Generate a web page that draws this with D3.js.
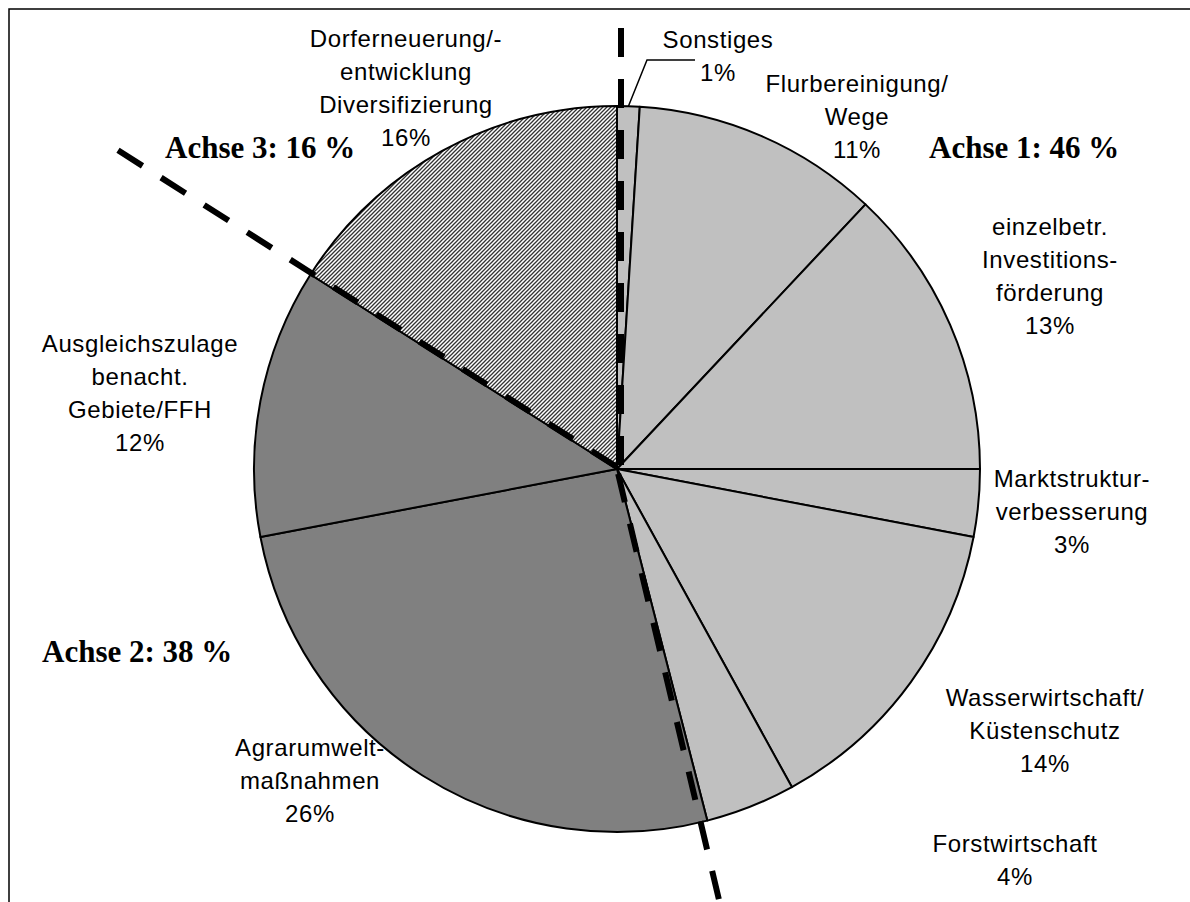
<!DOCTYPE html>
<html>
<head>
<meta charset="utf-8">
<script src="https://cdn.jsdelivr.net/npm/d3@7"></script>
<style>
  body { margin: 0; background: #fff; }
</style>
</head>
<body>
<div id="viz"></div>
<script>
// slices clockwise from 12 o'clock
const categories = [
  ["Sonstiges"],
  ["Flurbereinigung/", "Wege"],
  ["einzelbetr.", "Investitions-", "förderung"],
  ["Marktstruktur-", "verbesserung"],
  ["Wasserwirtschaft/", "Küstenschutz"],
  ["Forstwirtschaft"],
  ["Agrarumwelt-", "maßnahmen"],
  ["Ausgleichszulage", "benacht.", "Gebiete/FFH"],
  ["Dorferneuerung/-", "entwicklung", "Diversifizierung"]
];
const values = [1, 11, 13, 3, 14, 4, 26, 12, 16];
const axisOf = [1, 1, 1, 1, 1, 1, 2, 2, 3];

const axisNames = ["Achse 1: 46 %", "Achse 2: 38 %", "Achse 3: 16 %"];
// boundaries between the Achsen, in percent of the circle
const axisBounds = [0, 46.3, 84];

const width = 1190, height = 902;
const cx = 617, cy = 469, r = 363;

const svg = d3.select("#viz").append("svg")
  .attr("width", width)
  .attr("height", height)
  .style("display", "block");

const defs = svg.append("defs");
const hatch = defs.append("pattern")
  .attr("id", "hatch")
  .attr("patternUnits", "userSpaceOnUse")
  .attr("width", 4)
  .attr("height", 4);
hatch.append("rect").attr("width", 4).attr("height", 4).attr("fill", "#fff");
hatch.append("path")
  .attr("d", "M-1,1 l2,-2 M0,4 l4,-4 M3,5 l2,-2")
  .attr("stroke", "#333")
  .attr("stroke-width", 1.3);

// frame (only left and top edges fall inside the picture)
svg.append("rect")
  .attr("x", 9).attr("y", 9)
  .attr("width", 1300).attr("height", 1000)
  .attr("fill", "none")
  .attr("stroke", "#000")
  .attr("stroke-width", 1.5);

const fillFor = a => a === 1 ? "#c0c0c0" : a === 2 ? "#808080" : "url(#hatch)";

const pie = d3.pie().sort(null).value(d => d)
  .startAngle(0).endAngle(2 * Math.PI);
const arcs = pie(values);
const arc = d3.arc().innerRadius(0).outerRadius(r);

const g = svg.append("g").attr("transform", `translate(${cx},${cy})`);

g.selectAll("path.slice")
  .data(arcs)
  .join("path")
  .attr("class", "slice")
  .attr("d", arc)
  .attr("fill", (d, i) => fillFor(axisOf[i]))
  .attr("stroke", "#000")
  .attr("stroke-width", 2)
  .attr("stroke-linejoin", "round");

// dashed Achsen dividers, drawn from the outer end towards the centre
const pct = d3.scaleLinear().domain([0, 100]).range([0, 2 * Math.PI]);
const dividerLen = [441, 442, 591];
const dividerShift = [[4, 0], [0, 0], [0, -2]]; // drawn slightly beside the slice edge
axisBounds.forEach((p, i) => {
  const a = pct(p);
  const L = dividerLen[i];
  const [sx, sy] = dividerShift[i];
  g.append("line")
    .attr("x1", L * Math.sin(a) + sx)
    .attr("y1", -L * Math.cos(a) + sy)
    .attr("x2", sx)
    .attr("y2", sy)
    .attr("stroke", "#000")
    .attr("stroke-width", 6)
    .attr("stroke-dasharray", "29,22");
});

// leader line for Sonstiges
const sonstMid = (arcs[0].startAngle + arcs[0].endAngle) / 2;
g.append("path")
  .attr("d", `M${r * Math.sin(sonstMid)},${-r * Math.cos(sonstMid)} L30,-409 L78,-409`)
  .attr("fill", "none")
  .attr("stroke", "#000")
  .attr("stroke-width", 1.5);

// label block positions: centre x, first baseline
const labelAt = [
  [718, 48], [857, 92], [1050, 235], [1072, 487], [1045, 706],
  [1015, 852], [310, 756], [140, 352], [406, 47]
];
const lineH = 33;

categories.forEach((lines, i) => {
  const t = svg.append("text")
    .attr("x", labelAt[i][0])
    .attr("y", labelAt[i][1])
    .attr("text-anchor", "middle")
    .style("font-family", "'Liberation Sans', Arial, sans-serif")
    .style("font-size", "24px")
    .style("letter-spacing", "0.6px")
    .style("fill", "#000");
  lines.concat([values[i] + "%"]).forEach((s, j) => {
    t.append("tspan")
      .attr("x", labelAt[i][0])
      .attr("y", labelAt[i][1] + j * lineH)
      .text(s);
  });
});

const axisLabelAt = [[929, 158], [42, 662], [165, 158]];
axisNames.forEach((s, i) => {
  svg.append("text")
    .attr("x", axisLabelAt[i][0])
    .attr("y", axisLabelAt[i][1])
    .style("font-family", "'Liberation Serif', 'Times New Roman', serif")
    .style("font-weight", "bold")
    .style("font-size", "31px")
    .style("fill", "#000")
    .text(s);
});
</script>
</body>
</html>
